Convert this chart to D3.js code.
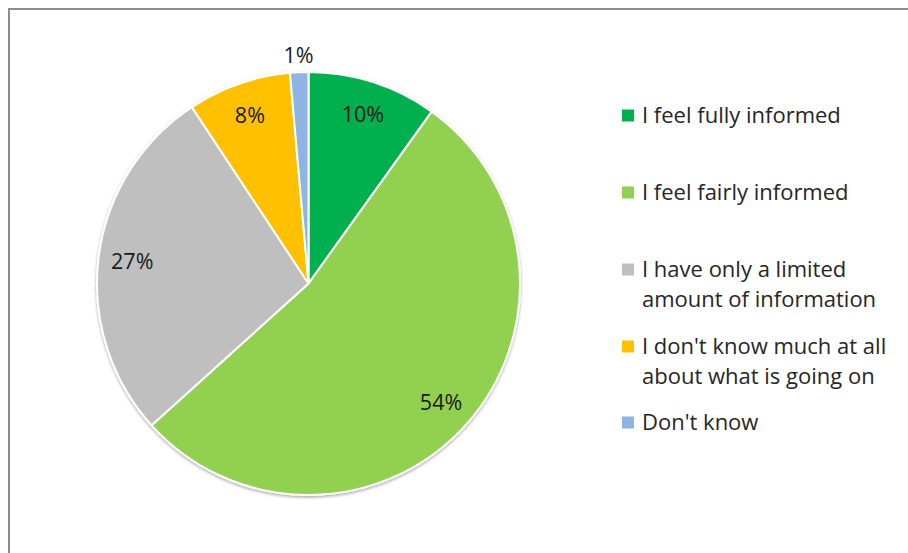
<!DOCTYPE html>
<html>
<head>
<meta charset="utf-8">
<script src="https://cdn.jsdelivr.net/npm/d3@7"></script>
<style>
  body { margin: 0; background: #fff; }
  svg { display: block; font-family: "Open Sans", Lato, sans-serif; }
</style>
</head>
<body>
<script>
const categories = [
    "I feel fully informed",
    "I feel fairly informed",
    "I have only a limited amount of information",
    "I don't know much at all about what is going on",
    "Don't know",
];
const values = [9.9, 53.4, 27.4, 7.9, 1.4];
const labels = ["10%", "54%", "27%", "8%", "1%"];
const colors = ["#00b050", "#92d050", "#bfbfbf", "#ffc000", "#8eb4e3"];
// legend text broken into lines like the original
const legendLines = [
    ["I feel fully informed"],
    ["I feel fairly informed"],
    ["I have only a limited", "amount of information"],
    ["I don't know much at all", "about what is going on"],
    ["Don't know"],
];

const w = 908;
const h = 553;
const cx = 308.5;
const cy = 283.5;
const r = 211.5;

const svg = d3.select("body").append("svg").attr("width", w).attr("height", h);

// chart frame
svg.append("rect")
    .attr("x", 9).attr("y", 9)
    .attr("width", w + 20).attr("height", h + 20)
    .attr("fill", "none")
    .attr("stroke", "#8c8c8c")
    .attr("stroke-width", 2);

const defs = svg.append("defs");
const shadow = defs.append("filter").attr("id", "shadow")
    .attr("x", "-10%").attr("y", "-10%").attr("width", "120%").attr("height", "120%");
shadow.append("feDropShadow")
    .attr("dx", 0).attr("dy", 1.5).attr("stdDeviation", 1.5)
    .attr("flood-color", "#000").attr("flood-opacity", 0.35);

const pie = d3.pie().sort(null).value(d => d)(values);
const arc = d3.arc().innerRadius(0).outerRadius(r);

const g = svg.append("g").attr("transform", `translate(${cx},${cy})`);

g.append("g").attr("filter", "url(#shadow)")
    .selectAll("path")
    .data(pie)
    .enter()
    .append("path")
    .attr("d", arc)
    .attr("fill", (d, i) => colors[i])
    .attr("stroke", "#fff")
    .attr("stroke-width", 2);

// label radii relative to r (last one sits outside the pie)
const labelRadius = [0.84, 0.84, 0.84, 0.84, 1.08];
g.selectAll("text.lbl")
    .data(pie)
    .enter()
    .append("text")
    .attr("class", "lbl")
    .attr("transform", (d, i) => {
        const a = (d.startAngle + d.endAngle) / 2;
        const rr = r * labelRadius[i];
        return `translate(${Math.sin(a) * rr},${-Math.cos(a) * rr})`;
    })
    .attr("text-anchor", "middle")
    .attr("dy", "0.357em")
    .attr("font-size", "21.5px")
    .attr("fill", "#1a1a1a")
    .text((d, i) => labels[i]);

// legend
const legendY = [115.5, 192.5, 269.5, 346.5, 422.5];
const legend = svg.append("g").attr("transform", "translate(622,0)");
const items = legend.selectAll("g")
    .data(categories)
    .enter()
    .append("g")
    .attr("transform", (d, i) => `translate(0,${legendY[i]})`);

items.append("rect")
    .attr("x", 0).attr("y", -6)
    .attr("width", 12).attr("height", 12)
    .attr("fill", (d, i) => colors[i]);

items.append("text")
    .attr("font-size", "22px")
    .attr("fill", "#262626")
    .selectAll("tspan")
    .data((d, i) => legendLines[i])
    .enter()
    .append("tspan")
    .attr("x", 20)
    .attr("dy", (d, j) => (j === 0 ? "0.357em" : "30px"))
    .text(d => d);
</script>
</body>
</html>
